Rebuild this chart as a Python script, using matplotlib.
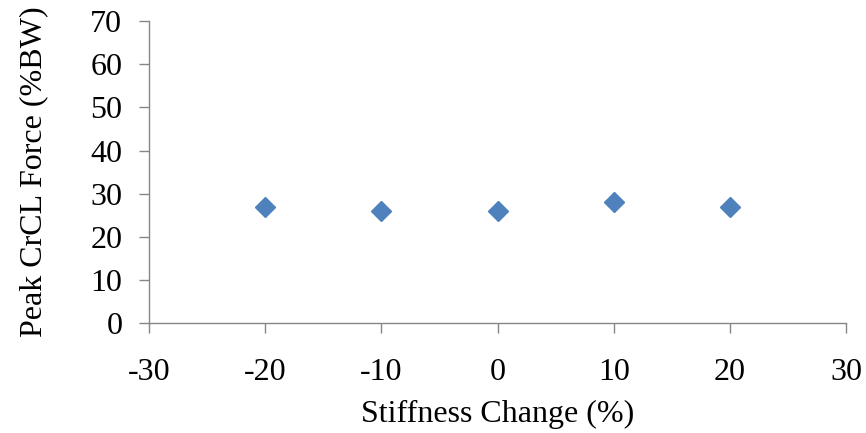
import matplotlib.pyplot as plt
plt.switch_backend('agg')

# stiffness change (%) vs peak CrCL force (%BW)
stiffness_change = [-20, -10, 0, 10, 20]
peak_force = [27, 26, 26, 28, 27]

x_ticks = [-30, -20, -10, 0, 10, 20, 30]
y_ticks = [0, 10, 20, 30, 40, 50, 60, 70]

plt.rcParams['font.family'] = ['Liberation Serif', 'DejaVu Serif']
plt.rcParams['axes.unicode_minus'] = False
axis_grey = '#868686'

fig = plt.figure(figsize=(8.66, 4.33), dpi=100)
ax = fig.add_axes([0.172, 0.2533, 0.805, 0.6984])

ax.plot(stiffness_change, peak_force, linestyle='none', marker='D',
        markersize=10.5, color='#4F81BD', markeredgecolor='#4F81BD')

ax.set_xlim(-30, 30)
ax.set_ylim(0, 70)
ax.set_xticks(x_ticks)
ax.set_yticks(y_ticks)

for side in ['top', 'right']:
    ax.spines[side].set_visible(False)
for side in ['left', 'bottom']:
    ax.spines[side].set_color(axis_grey)
    ax.spines[side].set_linewidth(1.0)

ax.tick_params(axis='both', direction='out', length=7.2, width=1.0,
               color=axis_grey, labelsize=23)
ax.tick_params(axis='y', pad=12)
ax.tick_params(axis='x', pad=18)

ax.set_xlabel('Stiffness Change (%)', fontsize=23, labelpad=9)
ax.set_ylabel('Peak CrCL Force (%BW)', fontsize=23, labelpad=30)

plt.savefig('out.png', dpi=100)
plt.close()
